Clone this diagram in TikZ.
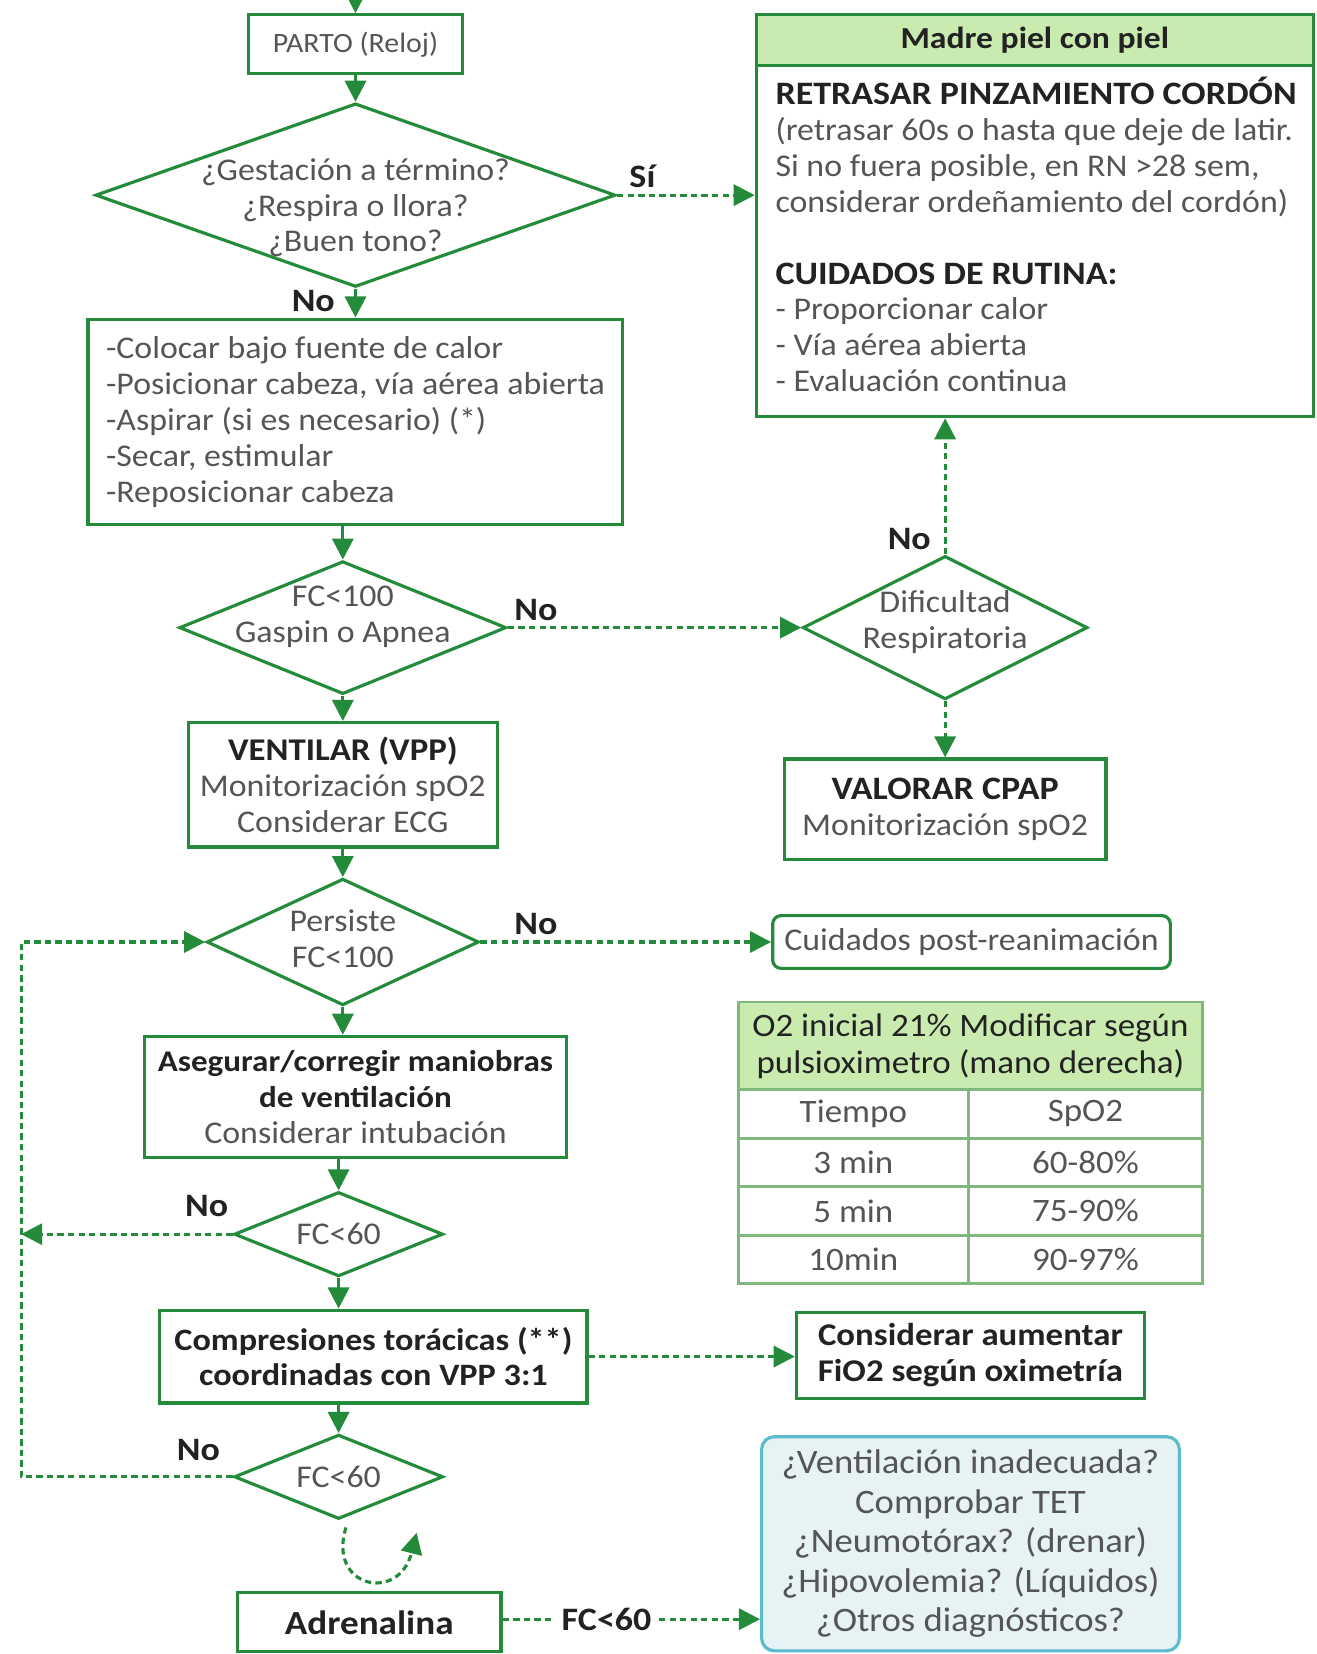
\documentclass[tikz,border=0pt]{standalone}
\usepackage{fontspec}
\setmainfont{Carlito}[FakeStretch=1.07, BoldFeatures={FakeStretch=1.1}]
\usetikzlibrary{arrows.meta,shapes.geometric}
\definecolor{gr}{HTML}{238B3A}
\definecolor{hdr}{HTML}{C9EBB0}
\definecolor{tbl}{HTML}{7DB97D}
\definecolor{bluebd}{HTML}{5BBCCB}
\definecolor{bluefill}{HTML}{E6F2F4}
\definecolor{txtg}{HTML}{555555}
\definecolor{txtb}{HTML}{222222}
\newcommand\fsz{\fontsize{30}{34}\selectfont}
\begin{document}
\begin{tikzpicture}[x=1pt,y=-1pt,
  box/.style={draw=gr, line width=3pt, rectangle, inner sep=0pt, text=txtg, font=\fsz, align=center},
  dia/.style={draw=gr, line width=3pt, diamond, inner sep=0pt},
  txt/.style={text=txtg, font=\fsz, align=center, inner sep=0pt},
  lbl/.style={text=txtb, font=\fontsize{31}{34}\selectfont\bfseries, inner sep=0pt},
  arr/.style={draw=gr, line width=3pt, -{Triangle[length=20pt,width=20pt]}},
  dln/.style={draw=gr, line width=3pt, dash pattern=on 6pt off 4pt},
  darr/.style={dln, -{Triangle[length=20pt,width=20pt]}},
  cell/.style={draw=tbl, line width=2.5pt, rectangle, inner sep=0pt, text=txtg, font=\fontsize{31}{35}\selectfont, align=center}
]
\useasboundingbox (0,0) rectangle (1248,1568);

% main column
\coordinate (start) at (337,0);
\node[box, minimum width=203pt, minimum height=56pt, font=\fontsize{26.5}{32}\selectfont] (parto) at (337,42) {PARTO (Reloj)};
\node[dia, minimum width=493pt, minimum height=174pt] (d1) at (337,185) {};
\node[txt] (d1t) at (337,197) {¿Gestación a término?\\¿Respira o llora?\\¿Buen tono?};
\node[box, minimum width=507pt, minimum height=195pt, align=left] (b2) at (337,400) {-Colocar bajo fuente de calor\\-Posicionar cabeza, vía aérea abierta\\-Aspirar (si es necesario) (*)\\-Secar, estimular\\-Reposicionar cabeza};
\node[dia, minimum width=310pt, minimum height=126pt] (d2) at (325,595) {};
\node[txt] (d2t) at (325,585) {FC<100\\Gaspin o Apnea};
\node[box, minimum width=293pt, minimum height=118pt] (vent) at (325,744) {{\color{txtb}\bfseries VENTILAR (VPP)}\\Monitorización spO2\\Considerar ECG};
\node[dia, minimum width=258pt, minimum height=120pt] (d4) at (325,893) {};
\node[txt] (d4t) at (325,890) {Persiste\\FC<100};
\node[box, minimum width=400pt, minimum height=115pt] (aseg) at (337,1040) {{\color{txtb}\fontsize{28.5}{34}\selectfont\bfseries Asegurar/corregir maniobras}\\{\color{txtb}\fontsize{28.5}{34}\selectfont\bfseries de ventilación}\\Considerar intubación};
\node[dia, minimum width=198pt, minimum height=80pt] (d5) at (321,1170) {};
\node[txt] (d5t) at (321,1170) {FC<60};
\node[box, minimum width=405pt, minimum height=88pt, text=txtb, font=\fontsize{29.5}{34}\selectfont\bfseries] (comp) at (354,1286) {Compresiones torácicas (**)\\coordinadas con VPP 3:1};
\node[dia, minimum width=198pt, minimum height=80pt] (d6) at (321,1400) {};
\node[txt] (d6t) at (321,1400) {FC<60};
\node[box, minimum width=250pt, minimum height=56pt, text=txtb, font=\fontsize{32}{36}\selectfont\bfseries] (adr) at (350,1538) {Adrenalina};

% right column
\node[box, minimum width=528pt, minimum height=381pt] (madre) at (981,204.5) {};
\node[box, fill=hdr, minimum width=528pt, minimum height=48pt, text=txtb, font=\fontsize{29}{32}\selectfont\bfseries] (madreh) at (981,38) {Madre piel con piel};
\node[txt, anchor=north west, align=left] (madret) at (735,73) {{\color{txtb}\fontsize{31}{34}\selectfont\bfseries RETRASAR PINZAMIENTO CORDÓN}\\(retrasar 60s o hasta que deje de latir.\\Si no fuera posible, en RN >28 sem,\\considerar ordeñamiento del cordón)\\[34pt]{\color{txtb}\fontsize{31}{34}\selectfont\bfseries CUIDADOS DE RUTINA:}\\- Proporcionar calor\\- Vía aérea abierta\\- Evaluación continua};
\node[dia, minimum width=270pt, minimum height=136pt] (d3) at (896,595) {};
\node[txt] (d3t) at (896,590) {Dificultad\\Respiratoria};
\node[box, minimum width=305pt, minimum height=95pt] (val) at (896,767) {{\color{txtb}\fontsize{31}{34}\selectfont\bfseries VALORAR CPAP}\\Monitorización spO2};
\node[box, rounded corners=8pt, minimum width=377pt, minimum height=50pt] (cuid) at (921,893) {Cuidados post-reanimación};

% table
\node[cell, fill=hdr, text=txtb, minimum width=440pt, minimum height=83pt] (th) at (920,991.5) {O2 inicial 21\% Modificar según\\pulsioximetro (mano derecha)};
\node[cell, minimum width=218pt, minimum height=46pt] (c11) at (809,1056) {Tiempo};
\node[cell, minimum width=222pt, minimum height=46pt] (c12) at (1029,1056) {SpO2};
\node[cell, minimum width=218pt, minimum height=46pt] (c21) at (809,1102) {3 min};
\node[cell, minimum width=222pt, minimum height=46pt] (c22) at (1029,1102) {60-80\%};
\node[cell, minimum width=218pt, minimum height=46pt] (c31) at (809,1148) {5 min};
\node[cell, minimum width=222pt, minimum height=46pt] (c32) at (1029,1148) {75-90\%};
\node[cell, minimum width=218pt, minimum height=46pt] (c41) at (809,1194) {10min};
\node[cell, minimum width=222pt, minimum height=46pt] (c42) at (1029,1194) {90-97\%};

\node[box, minimum width=330pt, minimum height=82pt, text=txtb, font=\fsz\bfseries] (cons) at (920,1285) {Considerar aumentar\\FiO2 según oximetría};
\node[box, draw=bluebd, fill=bluefill, rounded corners=12pt, minimum width=396pt, minimum height=203pt, font=\fontsize{32.5}{37.5}\selectfont] (blue) at (920,1463.5) {¿Ventilación inadecuada?\\Comprobar TET\\¿Neumotórax? (drenar)\\¿Hipovolemia? (Líquidos)\\¿Otros diagnósticos?};

% labels
\node[lbl] (si) at (609,167) {Sí};
\node[lbl] (no1) at (297,285) {No};
\node[lbl] (no2) at (508,578) {No};
\node[lbl] (no3) at (862,511) {No};
\node[lbl] (no4) at (508,876) {No};
\node[lbl] (no5) at (196,1143) {No};
\node[lbl] (no6) at (188,1375) {No};
\node[lbl, inner xsep=7pt] (fcl) at (575,1535) {FC<60};

% loop coordinate
\coordinate (loop) at (20,1400);
\coordinate (c1) at (328,1448);
\coordinate (c2) at (395,1453);

% solid arrows
\draw[arr] (start) -- (parto.north);
\draw[arr] (parto.south) -- (d1.north);
\draw[arr] (d1.south) -- (b2.north -| d1.south);
\draw[arr] (b2.south -| d2.north) -- (d2.north);
\draw[arr] (d2.south) -- (vent.north);
\draw[arr] (vent.south) -- (d4.north);
\draw[arr] (d4.south) -- (d4.south |- aseg.north);
\draw[arr] (aseg.south -| d5.north) -- (d5.north);
\draw[arr] (d5.south) -- (d5.south |- comp.north);
\draw[arr] (comp.south -| d6.north) -- (d6.north);

% dashed arrows
\draw[darr] (d1.east) -- (d1.east -| madre.west);
\draw[darr] (d2.east) -- (d3.west);
\draw[darr] (d3.north) -- (d3.north |- madre.south);
\draw[darr] (d3.south) -- (val.north);
\draw[darr] (d4.east) -- (cuid.west);
\draw[darr] (comp.east) -- (comp.east -| cons.west);
\draw[darr] (d5.west) -- (d5.west -| loop);
\draw[darr] (d6.west) -- (loop) |- (d4.west);
\draw[darr] (c1) .. controls (310,1505) and (378,1520) .. (c2);
\draw[dln] (adr.east |- fcl.west) -- (fcl.west);
\draw[darr] (fcl.east) -- (fcl.east -| blue.west);
\end{tikzpicture}
\end{document}
